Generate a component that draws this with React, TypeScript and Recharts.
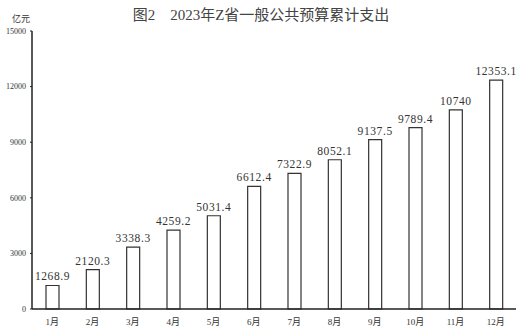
import { BarChart, Bar, XAxis, YAxis, LabelList } from 'recharts'

const months = ['1月', '2月', '3月', '4月', '5月', '6月', '7月', '8月', '9月', '10月', '11月', '12月']
const spending = [1268.9, 2120.3, 3338.3, 4259.2, 5031.4, 6612.4, 7322.9, 8052.1, 9137.5, 9789.4, 10740, 12353.1]
const yTicks = [0, 3000, 6000, 9000, 12000, 15000]

const FONT = '"Liberation Serif", "DejaVu Serif", "Noto Sans CJK SC", serif'

const data = months.map((m, i) => ({ month: m, value: spending[i] }))

export default function App() {
  return (
    <div style={{ position: 'absolute', left: 0, top: 0, width: 522, height: 332, background: '#fff' }}>
      <div style={{ position: 'absolute', left: 0, top: 3, width: 522, textAlign: 'center', fontFamily: FONT, fontSize: 15, color: '#444' }}>
        图2　2023年Z省一般公共预算累计支出
      </div>
      <div style={{ position: 'absolute', left: 12, top: 12, fontFamily: FONT, fontSize: 9, color: '#333' }}>亿元</div>
      <BarChart width={522} height={332} data={data} margin={{ top: 31, right: 6, left: 0, bottom: 0 }}>
        <XAxis
          dataKey="month"
          height={23}
          tickLine={false}
          axisLine={{ stroke: '#222', strokeWidth: 1.5 }}
          tick={{ fontSize: 9, fill: '#333', fontFamily: FONT }}
          tickMargin={4}
        />
        <YAxis
          width={32}
          domain={[0, 15000]}
          ticks={yTicks}
          interval={0}
          tickSize={2}
          tickLine={{ stroke: '#222' }}
          axisLine={{ stroke: '#222', strokeWidth: 1.5 }}
          tick={{ fontSize: 8, fill: '#333', fontFamily: FONT }}
          tickMargin={4}
        />
        <Bar dataKey="value" barSize={13} fill="#fff" stroke="#333" strokeWidth={1.2} isAnimationActive={false}>
          <LabelList
            dataKey="value"
            position="top"
            offset={5}
            style={{ fontSize: 11.5, fill: '#333', fontFamily: FONT, letterSpacing: 0.6 }}
          />
        </Bar>
      </BarChart>
    </div>
  )
}
